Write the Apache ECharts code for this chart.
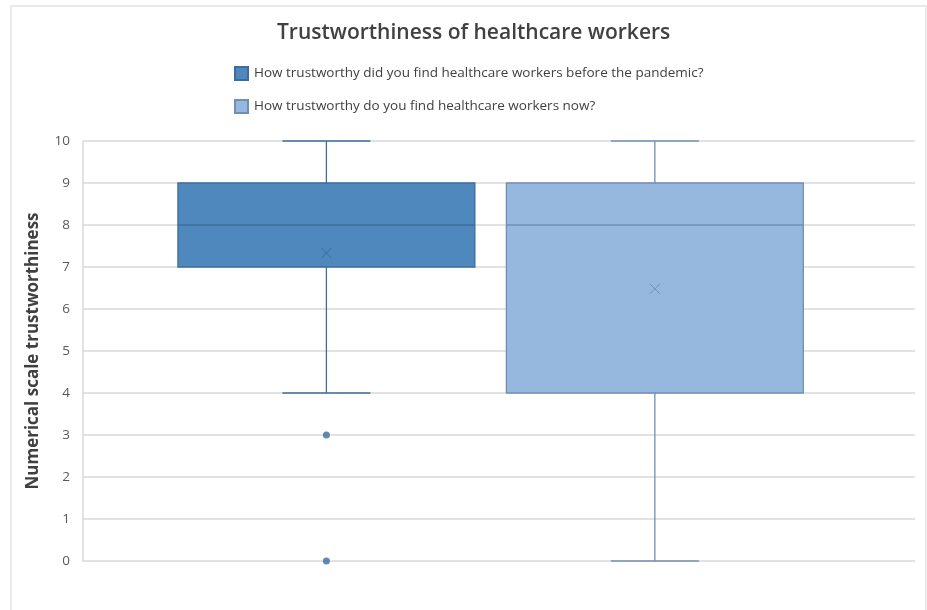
<!DOCTYPE html>
<html>
<head>
<meta charset="utf-8">
<script src="https://cdn.jsdelivr.net/npm/echarts@6/dist/echarts.min.js"></script>
<style>html,body{margin:0;padding:0;background:#fff}#c{width:927px;height:610px}</style>
</head>
<body>
<div id="c"></div>
<script>
const seriesNames = [
  'How trustworthy did you find healthcare workers before the pandemic?',
  'How trustworthy do you find healthcare workers now?'
];
const positions = [1, 2];
const minValues = [4, 0];
const q1Values = [7, 4];
const medianValues = [8, 8];
const q3Values = [9, 9];
const maxValues = [10, 10];
const meanValues = [7.33, 6.48];
const outlierSeries = [0, 0];
const outlierValues = [3, 0];
const yTicks = [0, 1, 2, 3, 4, 5, 6, 7, 8, 9, 10];

const fills = ['#4f88bd', '#96b8df'];
const strokes = ['#3f6d9b', '#7090b2'];

const chart = echarts.init(document.getElementById('c'), null, {renderer: 'canvas'});

function boxSeries(i) {
  return {
    name: seriesNames[i],
    type: 'custom',
    itemStyle: {color: fills[i], borderColor: strokes[i], borderWidth: 1},
    data: [[positions[i], minValues[i], q1Values[i], medianValues[i], q3Values[i], maxValues[i], meanValues[i]]],
    encode: {x: 0, y: [1, 2, 3, 4, 5]},
    renderItem: function (params, api) {
      const x = api.value(0);
      const unit = api.size([1, 0])[0];
      const halfBox = unit * 0.452;
      const halfCap = unit * 0.134;
      const pMin = api.coord([x, api.value(1)]);
      const pQ1 = api.coord([x, api.value(2)]);
      const pMed = api.coord([x, api.value(3)]);
      const pQ3 = api.coord([x, api.value(4)]);
      const pMax = api.coord([x, api.value(5)]);
      const pMean = api.coord([x, api.value(6)]);
      const lineStyle = {stroke: strokes[i], lineWidth: 1.3};
      const m = 5;
      return {
        type: 'group',
        children: [
          {type: 'line', shape: {x1: pMax[0], y1: pMax[1], x2: pQ3[0], y2: pQ3[1]}, style: lineStyle},
          {type: 'line', shape: {x1: pMin[0], y1: pMin[1], x2: pQ1[0], y2: pQ1[1]}, style: lineStyle},
          {type: 'line', shape: {x1: pMax[0] - halfCap, y1: pMax[1], x2: pMax[0] + halfCap, y2: pMax[1]}, style: lineStyle},
          {type: 'line', shape: {x1: pMin[0] - halfCap, y1: pMin[1], x2: pMin[0] + halfCap, y2: pMin[1]}, style: lineStyle},
          {type: 'rect', shape: {x: pQ3[0] - halfBox, y: pQ3[1], width: halfBox * 2, height: pQ1[1] - pQ3[1]},
            style: {fill: fills[i], stroke: strokes[i], lineWidth: 1.3}},
          {type: 'line', shape: {x1: pMed[0] - halfBox, y1: pMed[1], x2: pMed[0] + halfBox, y2: pMed[1]}, style: lineStyle},
          {type: 'line', shape: {x1: pMean[0] - m, y1: pMean[1] - m, x2: pMean[0] + m, y2: pMean[1] + m}, style: {stroke: strokes[i], lineWidth: 1}},
          {type: 'line', shape: {x1: pMean[0] - m, y1: pMean[1] + m, x2: pMean[0] + m, y2: pMean[1] - m}, style: {stroke: strokes[i], lineWidth: 1}}
        ]
      };
    },
    z: 3
  };
}

const outlierData = outlierValues.map((v, k) => [positions[outlierSeries[k]], v]);

chart.setOption({
  animation: false,
  backgroundColor: '#fff',
  title: {
    text: 'Trustworthiness of healthcare workers',
    left: 272,
    top: 18,
    textStyle: {fontFamily: 'Open Sans', fontSize: 21, fontWeight: 600, color: '#404040'}
  },
  legend: {
    orient: 'vertical',
    left: 229,
    top: 61,
    itemWidth: 13,
    itemHeight: 13,
    itemGap: 18,
    icon: 'rect',
    data: seriesNames,
    textStyle: {fontFamily: 'Open Sans', fontSize: 13.5, color: '#404040', padding: [0, 0, 0, 1]}
  },
  grid: {left: 83, right: 12, top: 141, bottom: 49},
  xAxis: {
    type: 'value',
    min: 0.259,
    max: 2.792,
    show: true,
    axisLine: {show: false},
    axisTick: {show: false},
    axisLabel: {show: false},
    splitLine: {show: false}
  },
  yAxis: {
    type: 'value',
    min: yTicks[0],
    max: yTicks[yTicks.length - 1],
    interval: 1,
    name: 'Numerical scale trustworthiness',
    nameLocation: 'middle',
    nameGap: 41,
    nameTextStyle: {fontFamily: 'Open Sans', fontSize: 17, fontWeight: 'bold', color: '#404040'},
    axisLine: {show: true, lineStyle: {color: '#d9d9d9', width: 1.5}},
    axisTick: {show: false},
    axisLabel: {fontFamily: 'Open Sans', fontSize: 13.5, color: '#595959', margin: 13},
    splitLine: {lineStyle: {color: '#d9d9d9', width: 1.5}}
  },
  series: [
    boxSeries(0),
    boxSeries(1),
    {
      type: 'scatter',
      data: outlierData,
      symbol: 'circle',
      symbolSize: 7,
      itemStyle: {color: '#3a6ca0'},
      z: 4
    }
  ],
  graphic: [{
    type: 'rect',
    shape: {x: 11, y: 6, width: 915, height: 620},
    style: {fill: 'none', stroke: '#e3e3e3', lineWidth: 1.5},
    silent: true
  }]
});
</script>
</body>
</html>
